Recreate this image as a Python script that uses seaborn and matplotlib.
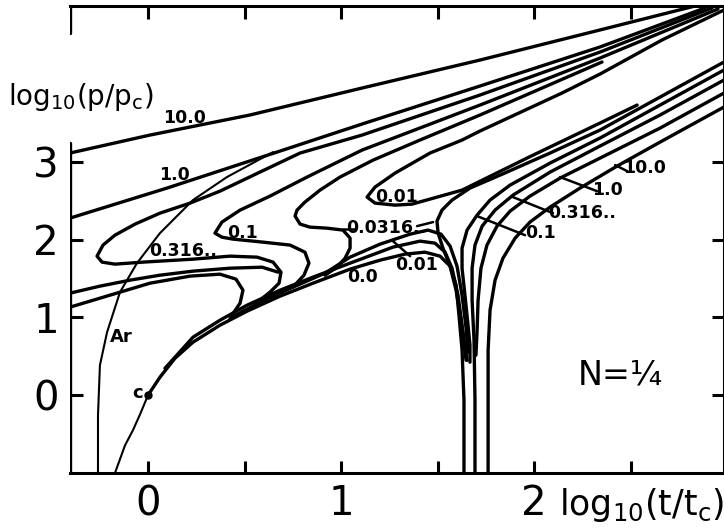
import matplotlib
matplotlib.use("Agg")
import matplotlib.pyplot as plt
import pandas as pd
import seaborn as sns

# curves: x = log10(t/tc), y = log10(p/pc)
U10_X = [-0.404, 0.010, 0.528, 1.109, 1.720, 2.342, 2.834]
U10_Y = [3.115, 3.346, 3.604, 3.951, 4.311, 4.698, 5.006]

U1_X = [-0.404, 0.098, 0.668, 1.109, 1.720, 2.342, 2.886]
U1_Y = [2.278, 2.664, 3.127, 3.488, 3.977, 4.479, 4.981]

C0316_X = [2.922, 2.342, 1.720, 1.109, 0.788, 0.580, 0.373, 0.218, 0.062, -0.067, -0.171, -0.233,
           -0.264, -0.238, -0.171, -0.026, 0.233, 0.425, 0.565, 0.648, 0.689, 0.679, 0.632, 0.580]
C0316_Y = [4.981, 4.414, 3.861, 3.346, 3.115, 2.870, 2.625, 2.471, 2.342, 2.201, 2.059, 1.931,
           1.789, 1.712, 1.686, 1.712, 1.750, 1.789, 1.776, 1.712, 1.583, 1.441, 1.326, 1.223]

C01_X = [2.953, 2.342, 1.720, 1.109, 0.824, 0.632, 0.477, 0.383, 0.347, 0.383, 0.440, 0.596,
         0.736, 0.813, 0.834, 0.808, 0.751]
C01_Y = [4.968, 4.337, 3.732, 3.153, 2.806, 2.561, 2.381, 2.227, 2.085, 2.033, 2.008, 1.969,
         1.931, 1.840, 1.699, 1.544, 1.390]

C00316_X = [2.352, 1.720, 1.409, 1.166, 0.995, 0.891, 0.813, 0.772, 0.762, 0.788, 0.839, 0.927,
            1.010, 1.047, 1.047, 1.021, 0.979, 0.917]
C00316_Y = [4.286, 3.604, 3.282, 3.024, 2.806, 2.638, 2.484, 2.381, 2.304, 2.201, 2.162, 2.149,
            2.124, 2.021, 1.892, 1.763, 1.647, 1.544]

TONGUE_X = [2.984, 2.663, 2.342, 2.145, 1.720, 1.627, 1.461, 1.280, 1.176, 1.135, 1.176, 1.280,
            1.368, 1.627, 1.974, 2.342, 2.534]
TONGUE_Y = [4.955, 4.569, 4.131, 3.887, 3.398, 3.282, 3.115, 2.857, 2.677, 2.548, 2.471, 2.445,
            2.458, 2.638, 3.063, 3.501, 3.732]

KNEE_X = [2.984, 2.653, 2.342, 2.083, 1.824, 1.668, 1.575, 1.523, 1.497, 1.503, 1.528, 1.565,
          1.596, 1.622, 1.637, 1.648]
KNEE_Y = [4.286, 3.835, 3.411, 3.115, 2.831, 2.664, 2.510, 2.381, 2.239, 2.085, 1.892, 1.660,
          1.351, 0.965, 0.644, 0.450]

R01_X = [2.984, 2.653, 2.342, 2.083, 1.876, 1.772, 1.705, 1.653, 1.627, 1.627, 1.642, 1.658, 1.668, 1.668]
R01_Y = [4.183, 3.732, 3.308, 2.986, 2.703, 2.510, 2.317, 2.124, 1.892, 1.634, 1.287, 0.901, 0.644, 0.425]

R0316_X = [2.984, 2.653, 2.342, 2.083, 1.891, 1.798, 1.731, 1.694, 1.679, 1.679, 1.689, 1.694, 1.694]
R0316_Y = [4.054, 3.604, 3.205, 2.870, 2.574, 2.381, 2.175, 1.931, 1.634, 1.223, 0.708, -0.064, -1.0]

R1_X = [2.984, 2.653, 2.342, 2.135, 1.979, 1.876, 1.808, 1.756, 1.725, 1.710, 1.705, 1.699]
R1_Y = [3.887, 3.436, 3.050, 2.793, 2.561, 2.368, 2.175, 1.931, 1.634, 1.223, 0.837, 0.515]

R10_X = [2.984, 2.653, 2.430, 2.238, 2.083, 1.979, 1.902, 1.839, 1.798, 1.772, 1.762, 1.762, 1.762]
R10_Y = [3.707, 3.256, 2.947, 2.664, 2.420, 2.227, 2.021, 1.763, 1.480, 1.094, 0.579, -0.322, -1.0]

E0_X = [0.0, 0.062, 0.140, 0.233, 0.373, 0.513, 0.684, 0.855, 1.047, 1.202, 1.332, 1.435, 1.513,
        1.565, 1.596, 1.611, 1.627, 1.637, 1.637]
E0_Y = [0.0, 0.232, 0.476, 0.682, 0.901, 1.081, 1.274, 1.441, 1.622, 1.737, 1.815, 1.840, 1.789,
        1.660, 1.416, 1.030, 0.579, -0.064, -1.0]

E1_X = [0.088, 0.233, 0.373, 0.513, 0.684, 0.855, 1.047, 1.269, 1.409, 1.487, 1.539, 1.575, 1.606,
        1.627, 1.642, 1.653]
E1_Y = [0.347, 0.746, 0.965, 1.158, 1.351, 1.519, 1.699, 1.905, 1.982, 1.956, 1.840, 1.634, 1.287,
        0.901, 0.644, 0.450]

E2_X = [0.425, 0.580, 0.751, 0.917, 1.047, 1.202, 1.358, 1.451, 1.518, 1.565, 1.601, 1.627, 1.648, 1.658]
E2_Y = [0.991, 1.197, 1.390, 1.570, 1.776, 1.943, 2.072, 2.124, 2.072, 1.918, 1.660, 1.287, 0.862, 0.553]

LB_X = [-0.404, -0.197, 0.010, 0.218, 0.373, 0.456, 0.492, 0.477, 0.435]
LB_Y = [1.133, 1.287, 1.441, 1.532, 1.557, 1.493, 1.351, 1.184, 1.030]

LA_X = [-0.404, -0.249, -0.093, 0.062, 0.233, 0.425, 0.591, 0.674]
LA_Y = [1.313, 1.403, 1.480, 1.544, 1.596, 1.634, 1.647, 1.583]

AR_X = [-0.259, -0.259, -0.249, -0.212, -0.145, -0.057, 0.062, 0.233, 0.409, 0.648]
AR_Y = [-1.0, -0.257, 0.386, 0.811, 1.326, 1.699, 2.085, 2.510, 2.806, 3.127]

CRIT_X = [-0.171, -0.119, -0.078, -0.041, 0.0]
CRIT_Y = [-1.0, -0.644, -0.450, -0.245, 0.0]

LABELS = ["10.0", "1.0", "0.316..", "0.1", "0.01", "0.0316..", "0.01", "0.0",
          "10.0", "1.0", "0.316..", "0.1"]
LABEL_X = [0.187, 0.135, 0.181, 0.492, 1.290, 1.233, 1.389, 1.109, 2.570, 2.378, 2.249, 2.031]
LABEL_Y = [3.565, 2.831, 1.853, 2.085, 2.548, 2.149, 1.673, 1.519, 2.921, 2.638, 2.342, 2.085]

LEADER_X = [[1.010, 1.073], [1.394, 1.477], [1.269, 1.358], [2.420, 2.482],
            [2.135, 2.326], [1.891, 2.098], [1.705, 1.953]]
LEADER_Y = [[2.136, 2.136], [2.175, 2.227], [1.982, 1.789], [2.960, 2.883],
            [2.806, 2.625], [2.548, 2.342], [2.304, 2.059]]

X_TICKS = [0, 0.5, 1, 1.5, 2, 2.5]
X_TICK_LABELS = ["0", "", "1", "", "2", ""]
Y_TICKS = [0, 1, 2, 3]


def to_frame(strokes):
    rows = []
    for name, (xs, ys) in strokes.items():
        for x, y in zip(xs, ys):
            rows.append({"stroke": name, "x": x, "y": y})
    return pd.DataFrame(rows)


def main():
    sns.set_theme(style="ticks")
    plt.rcParams["font.family"] = ["DejaVu Sans"]
    plt.rcParams["text.color"] = "black"
    plt.rcParams["mathtext.default"] = "regular"

    thick = {
        "u10": (U10_X, U10_Y), "u1": (U1_X, U1_Y), "c0316": (C0316_X, C0316_Y),
        "c01": (C01_X, C01_Y), "c00316": (C00316_X, C00316_Y), "tongue": (TONGUE_X, TONGUE_Y),
        "knee": (KNEE_X, KNEE_Y), "r01": (R01_X, R01_Y), "r0316": (R0316_X, R0316_Y),
        "r1": (R1_X, R1_Y), "r10": (R10_X, R10_Y), "e0": (E0_X, E0_Y), "e1": (E1_X, E1_Y),
        "e2": (E2_X, E2_Y), "lb": (LB_X, LB_Y), "la": (LA_X, LA_Y),
    }
    thin = {"ar": (AR_X, AR_Y), "crit": (CRIT_X, CRIT_Y)}

    fig = plt.figure(figsize=(7.24, 5.30), dpi=100)
    ax = fig.add_axes([70 / 724, 57 / 530, 654 / 724, 467 / 530])

    sns.lineplot(data=to_frame(thick), x="x", y="y", units="stroke", estimator=None,
                 sort=False, color="black", linewidth=2.4, ax=ax,
                 solid_joinstyle="round", solid_capstyle="round")
    sns.lineplot(data=to_frame(thin), x="x", y="y", units="stroke", estimator=None,
                 sort=False, color="black", linewidth=1.5, ax=ax, solid_joinstyle="round")
    for lx, ly in zip(LEADER_X, LEADER_Y):
        ax.plot(lx, ly, color="black", lw=1.8, solid_capstyle="round")
    ax.plot([0], [0], "o", color="black", ms=5)

    for text, x, y in zip(LABELS, LABEL_X, LABEL_Y):
        ax.text(x, y, text, ha="center", va="center", fontsize=12.5, fontweight="bold",
                color="black")
    ax.text(-0.14, 0.746, "Ar", ha="center", va="center", fontsize=13, fontweight="bold",
            color="black")
    ax.text(-0.025, 0.03, "c", ha="right", va="center", fontsize=13, fontweight="bold",
            color="black")
    ax.text(2.446, 0.257, "N=¼", ha="center", va="center", fontsize=24, color="black")

    ax.set_xlim(-0.404, 2.984)
    ax.set_ylim(-1.0, 5.006)
    ax.set_xticks(X_TICKS)
    ax.set_xticklabels(X_TICK_LABELS)
    ax.set_yticks(Y_TICKS)
    ax.set_yticklabels([str(v) for v in Y_TICKS])
    ax.set_xlabel("")
    ax.set_ylabel("")
    ax.tick_params(direction="in", length=9, width=2.2, labelsize=29, pad=8,
                   top=True, right=True, colors="black")

    for side in ["top", "bottom", "right"]:
        ax.spines[side].set_linewidth(2.2)
        ax.spines[side].set_color("black")
    ax.spines["left"].set_visible(False)
    ax.axvline(-0.404, 0, 0.707, color="black", lw=2.4)
    ax.axvline(-0.404, 0.943, 1, color="black", lw=2.4)

    fig.text(8 / 724, 0.817, "log$_{10}$(p/p$_c$)", ha="left", va="center", fontsize=20,
             color="black")
    fig.text(1.0, 0.047, "log$_{10}$(t/t$_c$)", ha="right", va="center", fontsize=25,
             color="black")

    fig.savefig("out.png", dpi=100)
    plt.close(fig)


if __name__ == "__main__":
    main()
